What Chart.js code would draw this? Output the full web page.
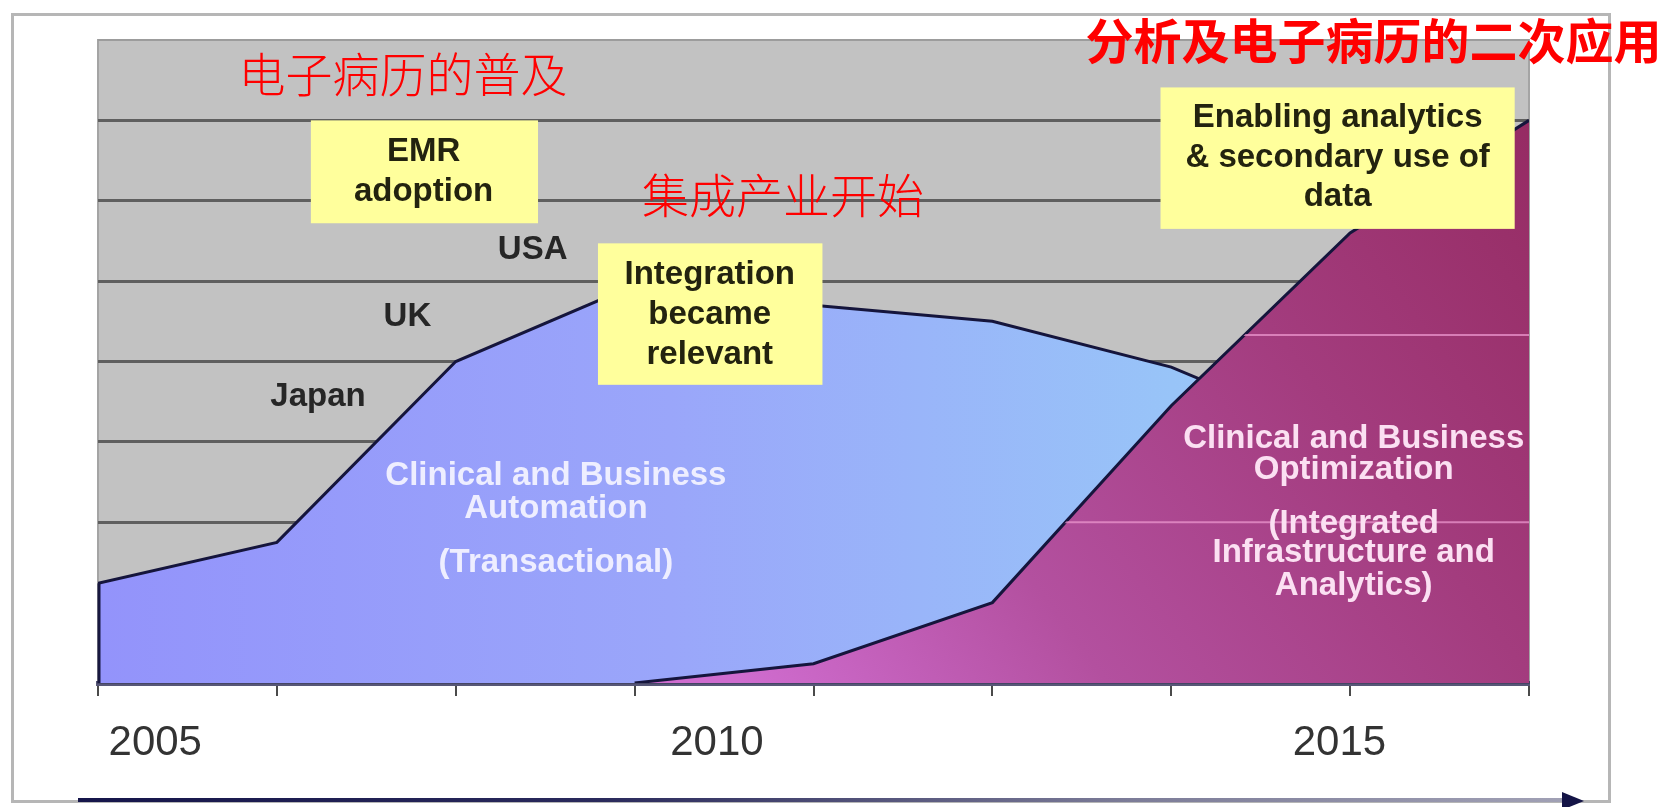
<!DOCTYPE html>
<html>
<head>
<meta charset="utf-8">
<title>EMR</title>
<script src="https://cdn.jsdelivr.net/npm/chart.js@4.4.1/dist/chart.umd.min.js"></script>
<style>
  html, body { margin: 0; padding: 0; background: #fff; }
</style>
</head>
<body>
<canvas id="myChart" width="1665" height="807"></canvas>
<script>
// eixo x = 9 marcas de tempo, eixo y = 8 faixas da grade
const marcas = [0, 1, 2, 3, 4, 5, 6, 7, 8]
const automacao = [1.24, 1.75, 4.0, 4.95, 4.7, 4.5, 3.93, 3.0, 2.2]
const otimizacao = [null, null, null, 0, 0.24, 1.0, 3.45, 5.6, 7.0]

const anos = ['2005', '2010', '2015']
const anosPos = [0.32, 3.46, 6.94]

const latin = "'Liberation Sans', Arial, sans-serif"
const cjk = "'Noto Sans CJK SC', sans-serif"

// textos: [texto, x, y] em unidades do grafico
const caixas = [
  { x0: 1.19, x1: 2.46, y0: 7.0, y1: 5.72, linhas: [['EMR', 1.82, 6.61], ['adoption', 1.82, 6.11]] },
  { x0: 2.795, x1: 4.05, y0: 5.47, y1: 3.71, linhas: [['Integration', 3.42, 5.08], ['became', 3.42, 4.58], ['relevant', 3.42, 4.08]] },
  { x0: 5.94, x1: 7.92, y0: 7.41, y1: 5.65, linhas: [['Enabling analytics', 6.93, 7.03], ['& secondary use of', 6.93, 6.53], ['data', 6.93, 6.05]] }
]
const paises = [['USA', 2.43, 5.39], ['UK', 1.73, 4.55], ['Japan', 1.23, 3.56]]
const textoAzul = [['Clinical and Business', 2.56, 2.58], ['Automation', 2.56, 2.17], ['(Transactional)', 2.56, 1.5]]
const textoRoxo = [['Clinical and Business', 7.02, 3.04], ['Optimization', 7.02, 2.65], ['(Integrated', 7.02, 1.98], ['Infrastructure and', 7.02, 1.62], ['Analytics)', 7.02, 1.21]]
const linhasRosa = [2, 4.33]

function gradAzul(ctx) {
    const a = ctx.chart.chartArea
    if (!a) return '#9aa8fa'
    const g = ctx.chart.ctx.createLinearGradient(a.left, 0, a.right, 0)
    g.addColorStop(0, '#9393fb')
    g.addColorStop(0.4, '#9aa6fa')
    g.addColorStop(0.75, '#98c4f8')
    g.addColorStop(1, '#9ccff8')
    return g
}

function gradRoxo(ctx) {
    const a = ctx.chart.chartArea
    if (!a) return '#a8407f'
    const g = ctx.chart.ctx.createLinearGradient(a.left + 0.45 * (a.right - a.left), a.bottom, a.right, a.top + 60)
    g.addColorStop(0, '#cf6ccf')
    g.addColorStop(0.3, '#b3509f')
    g.addColorStop(0.65, '#a33c7e')
    g.addColorStop(1, '#952b62')
    return g
}

const desenhos = {
    id: 'desenhos',
    beforeDraw(chart) {
        const c = chart.ctx
        const a = chart.chartArea
        c.save()
        c.fillStyle = '#fff'
        c.fillRect(0, 0, chart.width, chart.height)
        c.strokeStyle = '#b6b6b6'
        c.lineWidth = 3
        c.strokeRect(12.5, 14.5, 1597, 787)
        c.fillStyle = '#c2c2c2'
        c.fillRect(a.left, a.top, a.right - a.left, a.bottom - a.top)
        c.strokeStyle = '#a4a4a4'
        c.lineWidth = 2
        c.strokeRect(a.left, a.top, a.right - a.left, a.bottom - a.top)
        c.restore()
    },
    afterDatasetsDraw(chart) {
        const c = chart.ctx
        const a = chart.chartArea
        const sx = chart.scales.x
        const sy = chart.scales.y
        const px = v => sx.getPixelForValue(v)
        const py = v => sy.getPixelForValue(v)

        c.save()

        // linhas claras dentro da area roxa
        const pts = chart.getDatasetMeta(0).data.filter(p => !p.skip)
        c.save()
        c.beginPath()
        c.moveTo(pts[0].x, a.bottom)
        pts.forEach(p => c.lineTo(p.x, p.y))
        c.lineTo(a.right, a.bottom)
        c.closePath()
        c.clip()
        c.strokeStyle = 'rgba(235,150,205,0.75)'
        c.lineWidth = 2
        linhasRosa.forEach(v => {
            c.beginPath()
            c.moveTo(a.left, py(v))
            c.lineTo(a.right, py(v))
            c.stroke()
        })
        c.restore()

        // borda esquerda da area azul
        const p0 = chart.getDatasetMeta(1).data[0]
        c.strokeStyle = '#17173e'
        c.lineWidth = 3
        c.beginPath()
        c.moveTo(a.left + 1, p0.y)
        c.lineTo(a.left + 1, a.bottom)
        c.stroke()

        c.textAlign = 'center'
        c.textBaseline = 'middle'

        caixas.forEach(b => {
            c.fillStyle = '#ffff9c'
            c.fillRect(px(b.x0), py(b.y0), px(b.x1) - px(b.x0), py(b.y1) - py(b.y0))
            c.fillStyle = '#23230f'
            c.font = 'bold 33px ' + latin
            b.linhas.forEach(t => c.fillText(t[0], px(t[1]), py(t[2])))
        })

        c.fillStyle = '#262626'
        c.font = 'bold 33px ' + latin
        paises.forEach(t => c.fillText(t[0], px(t[1]), py(t[2])))

        c.fillStyle = '#eeeeff'
        textoAzul.forEach(t => c.fillText(t[0], px(t[1]), py(t[2])))

        c.fillStyle = '#fbe0f2'
        textoRoxo.forEach(t => c.fillText(t[0], px(t[1]), py(t[2])))

        // seta do tempo embaixo
        const g = c.createLinearGradient(78, 0, 1580, 0)
        g.addColorStop(0, '#15154a')
        g.addColorStop(0.35, '#2a2a5c')
        g.addColorStop(0.7, '#7c7c98')
        g.addColorStop(1, '#a2a2b6')
        c.strokeStyle = g
        c.lineWidth = 4
        c.beginPath()
        c.moveTo(78, 800)
        c.lineTo(1566, 800)
        c.stroke()
        c.fillStyle = '#141446'
        c.beginPath()
        c.moveTo(1562, 792)
        c.lineTo(1584, 801)
        c.lineTo(1562, 810)
        c.closePath()
        c.fill()

        // titulos em vermelho
        c.fillStyle = '#ff0000'
        c.font = '300 47px ' + cjk
        c.fillText('电子病历的普及', px(1.705), py(7.58))
        c.fillText('集成产业开始', px(3.83), py(6.07))
        c.font = 'bold 48px ' + cjk
        c.fillText('分析及电子病历的二次应用', px(7.13), py(7.99))

        c.restore()
    }
}

function corGrade(ctx) {
    const v = ctx.tick.value
    if (v === 0) return 'rgba(0,0,0,0)'
    if (v === 8) return '#9c9c9c'
    return '#5f5f5f'
}

const ctx = document.getElementById('myChart').getContext('2d')

const myChart = new Chart(ctx, {
    type: 'line',
    data: {
        datasets: [
            {
                label: 'Optimization',
                data: otimizacao.map((v, i) => ({ x: marcas[i], y: v })),
                borderColor: '#15153c',
                borderWidth: 3,
                backgroundColor: gradRoxo,
                fill: 'origin',
                pointRadius: 0,
                tension: 0,
                order: 0,
                xAxisID: 'x',
                yAxisID: 'y'
            },
            {
                label: 'Automation',
                data: automacao.map((v, i) => ({ x: marcas[i], y: v })),
                borderColor: '#15153c',
                borderWidth: 3,
                backgroundColor: gradAzul,
                fill: 'origin',
                pointRadius: 0,
                tension: 0,
                order: 1,
                xAxisID: 'x',
                yAxisID: 'y'
            }
        ]
    },
    options: {
        responsive: false,
        animation: false,
        layout: { padding: { left: 98, right: 136, top: 40, bottom: 0 } },
        plugins: {
            legend: { display: false },
            tooltip: { enabled: false }
        },
        scales: {
            x: {
                type: 'linear',
                min: 0,
                max: 8,
                z: 1,
                ticks: { display: false, stepSize: 1 },
                grid: { drawOnChartArea: false, drawTicks: true, tickLength: 13, color: '#4a4a4a', lineWidth: 2 },
                border: { display: true, color: 'rgba(45,45,85,0.8)', width: 5 },
                afterFit: s => { s.height = 0 }
            },
            anos: {
                type: 'linear',
                axis: 'x',
                position: 'bottom',
                min: 0,
                max: 8,
                grid: { display: false, drawTicks: false },
                border: { display: false },
                afterBuildTicks: s => { s.ticks = anosPos.map(v => ({ value: v })) },
                ticks: {
                    autoSkip: false,
                    maxRotation: 0,
                    padding: 35,
                    color: '#333',
                    font: { family: latin, size: 42 },
                    callback: (v, i) => anos[i]
                },
                afterFit: s => { s.height = 124 }
            },
            y: {
                min: 0,
                max: 8,
                ticks: { display: false, stepSize: 1 },
                grid: { drawTicks: false, color: corGrade, lineWidth: c => (c.tick.value === 8 ? 2 : 3) },
                border: { display: false },
                afterFit: s => { s.width = 0 }
            }
        }
    },
    plugins: [desenhos]
})
</script>
</body>
</html>
